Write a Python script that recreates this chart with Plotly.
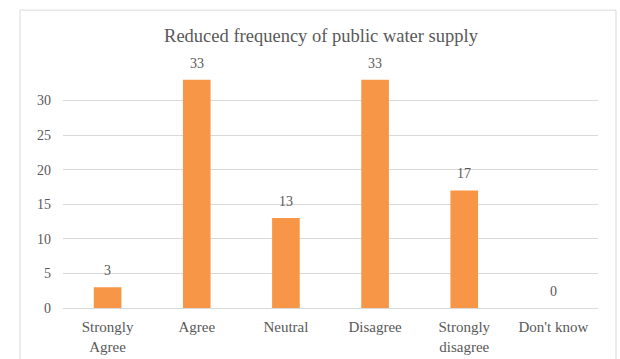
import plotly.graph_objects as go

# Survey responses
categories = ["Strongly<br>Agree", "Agree", "Neutral", "Disagree", "Strongly<br>disagree", "Don't know"]
values = [3, 33, 13, 33, 17, 0]
y_ticks = [0, 5, 10, 15, 20, 25, 30]

FONT = "Liberation Serif"
TEXT_GRAY = "#595959"
GRID = "#d9d9d9"
BAR = "#F79646"

fig = go.Figure()
fig.add_trace(go.Bar(
    x=categories,
    y=values,
    marker=dict(color=BAR, line=dict(width=0)),
    width=0.31,
    hoverinfo="skip",
))

# Value labels above each bar
for c, v in zip(categories, values):
    fig.add_annotation(
        x=c, y=v, text=str(v), showarrow=False,
        yanchor="bottom", yshift=7,
        font=dict(family=FONT, size=14, color=TEXT_GRAY),
    )

# Chart frame
fig.add_shape(
    type="rect", xref="paper", yref="paper",
    x0=-0.0804, x1=1.0336, y0=-0.25, y1=1.231,
    line=dict(color=GRID, width=1), fillcolor="rgba(0,0,0,0)", layer="below",
)

fig.update_layout(
    width=620, height=359,
    margin=dict(l=63, r=22, t=66, b=51, autoexpand=False),
    paper_bgcolor="white", plot_bgcolor="white",
    showlegend=False,
    title=dict(
        text="Reduced frequency of public water supply",
        xref="container", x=321 / 620, xanchor="center",
        y=1 - 36 / 359, yanchor="middle",
        font=dict(family=FONT, size=18.5, color=TEXT_GRAY),
    ),
    font=dict(family=FONT, size=14, color=TEXT_GRAY),
    xaxis=dict(
        showgrid=False, showline=False, ticks="", automargin=False,
        ticklabelstandoff=8,
        tickfont=dict(family=FONT, size=15, color=TEXT_GRAY),
    ),
    yaxis=dict(
        range=[0, 35], tickvals=y_ticks, automargin=False,
        showgrid=True, gridcolor=GRID, gridwidth=1,
        zeroline=True, zerolinecolor=GRID, zerolinewidth=1,
        showline=False, ticks="", ticklabelstandoff=11,
        tickfont=dict(family=FONT, size=14, color=TEXT_GRAY),
    ),
)

fig.write_html("out.html")
